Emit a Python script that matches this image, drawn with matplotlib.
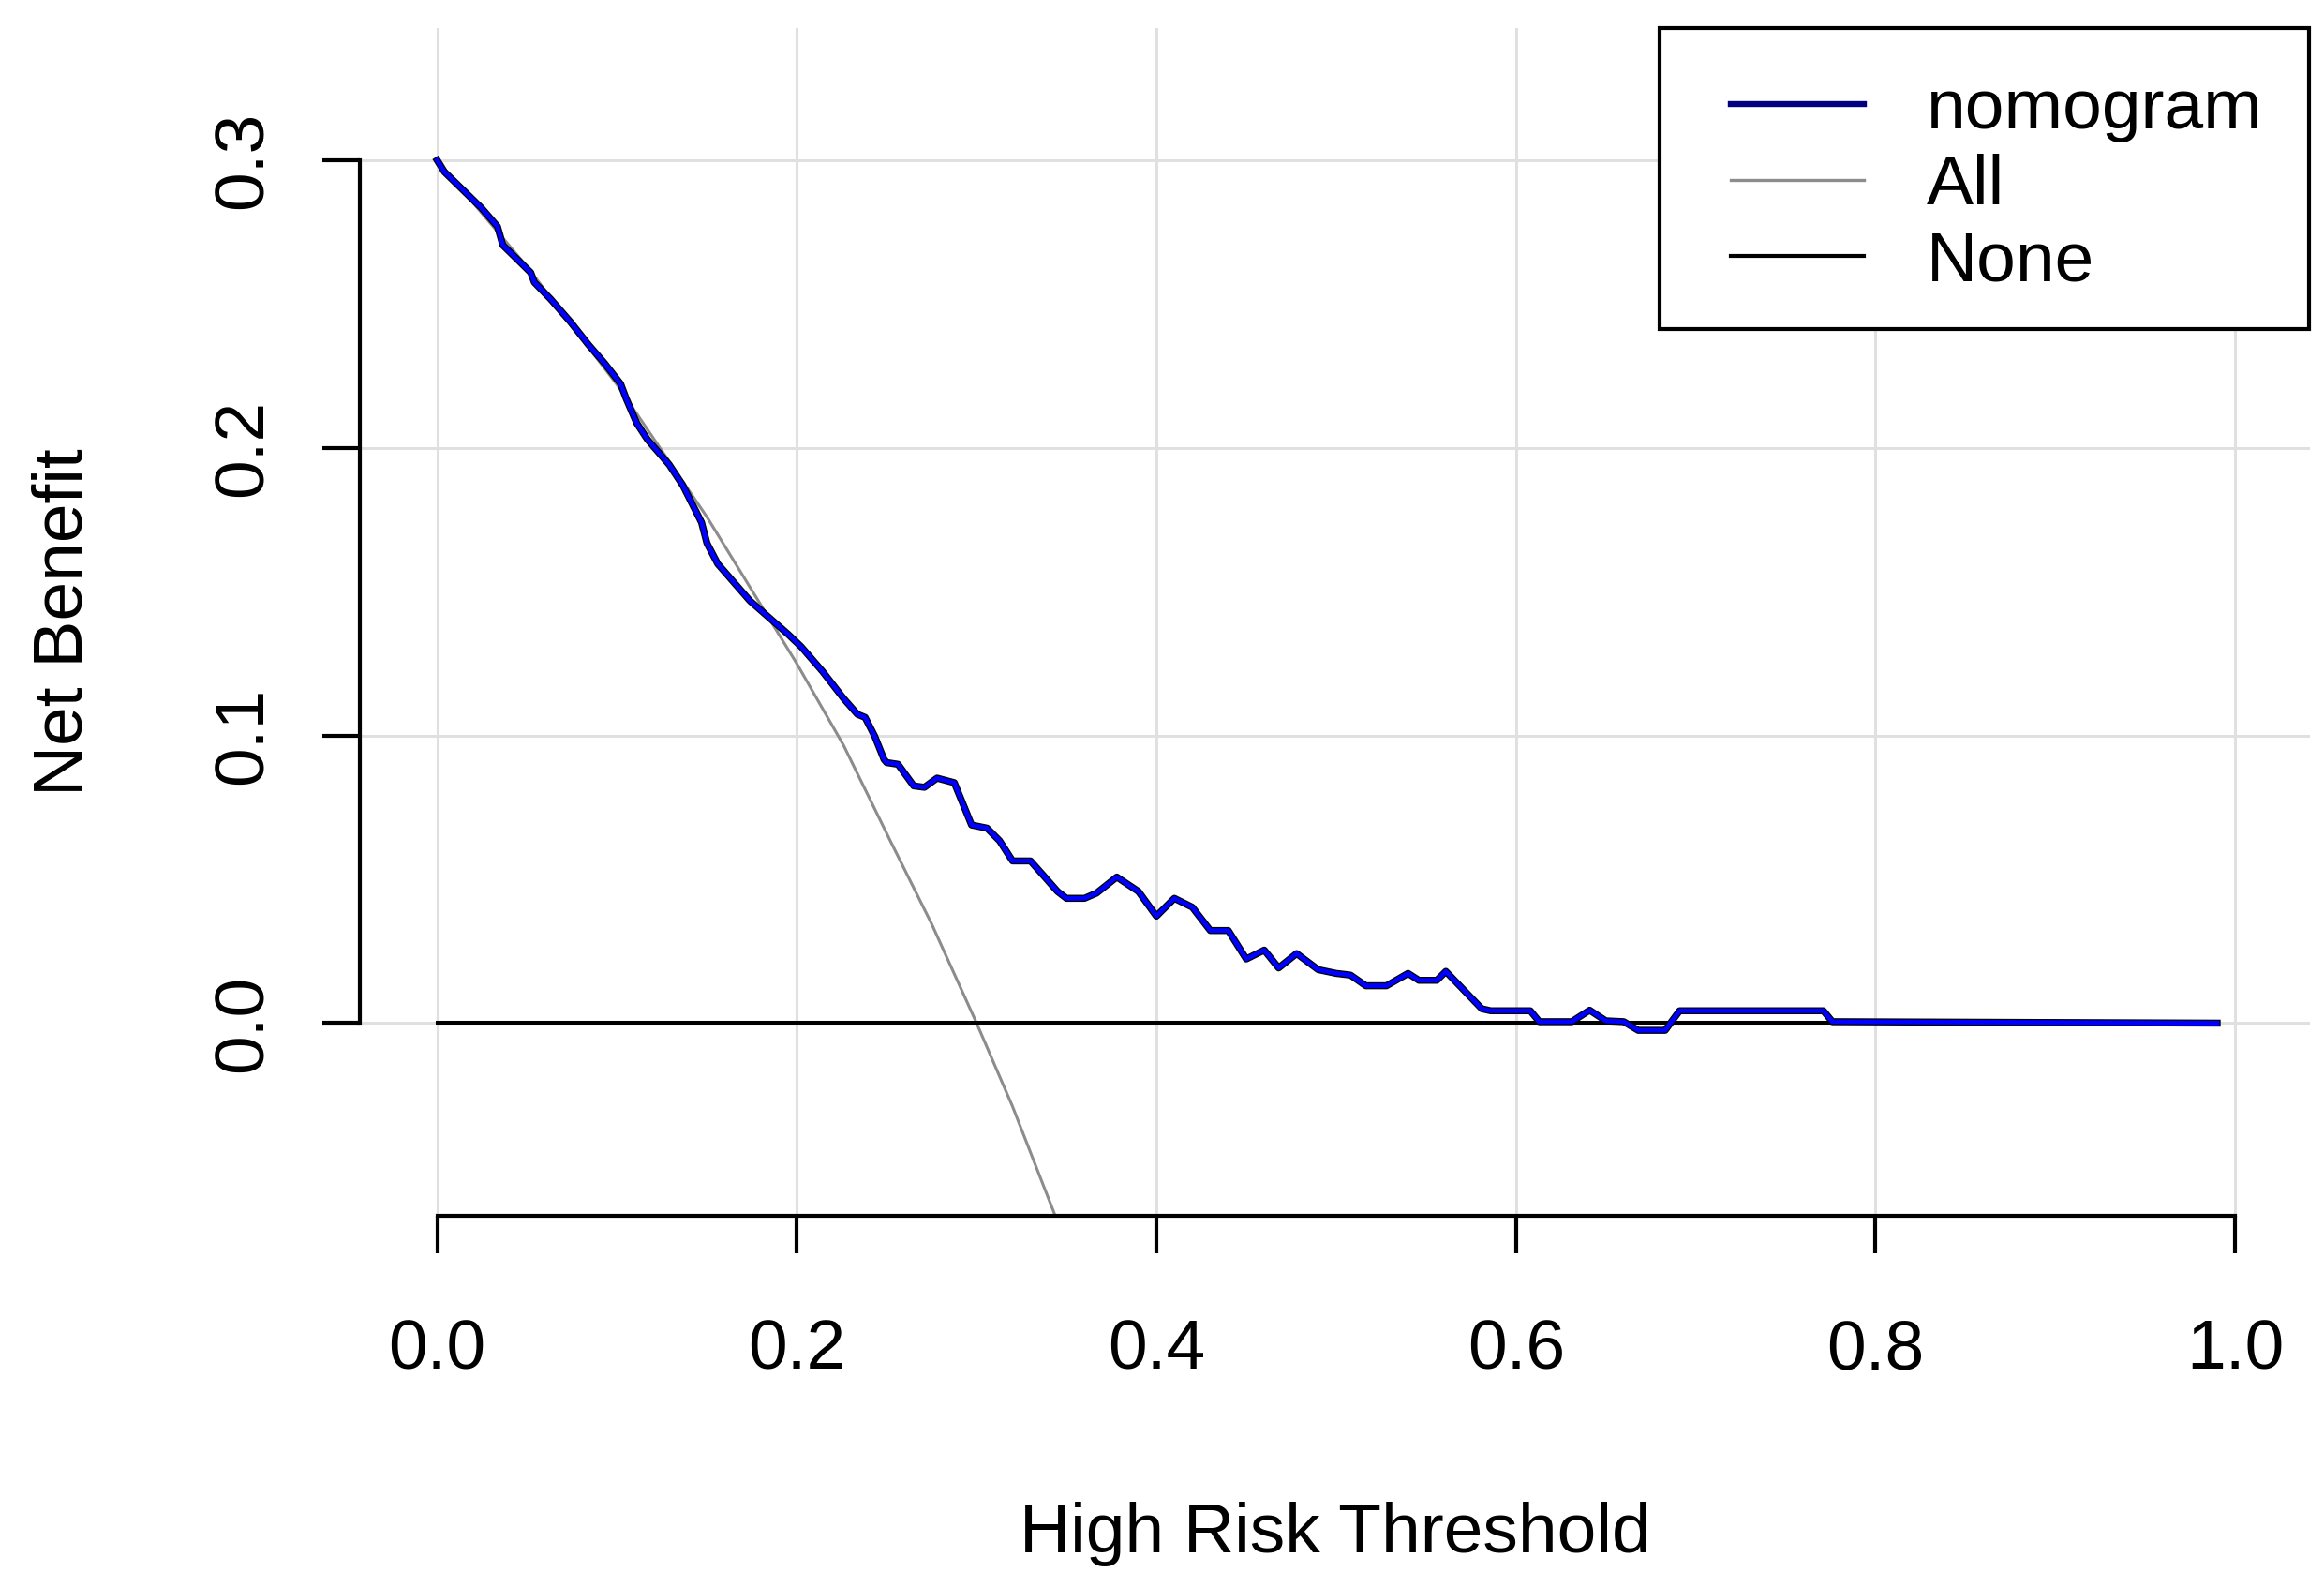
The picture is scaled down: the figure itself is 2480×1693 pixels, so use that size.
import matplotlib
matplotlib.use("Agg")
import matplotlib.pyplot as plt
from matplotlib.patches import Rectangle
from matplotlib.ticker import FormatStrFormatter
import numpy as np

plt.rcParams['font.family'] = ['Liberation Sans', 'DejaVu Sans']

# decision curve
thresh = [0.000, 0.004, 0.0245, 0.0335, 0.0365, 0.052, 0.054, 0.063, 0.074, 0.084,
          0.093, 0.102, 0.105, 0.111, 0.117, 0.129, 0.1366, 0.147, 0.150, 0.156,
          0.174, 0.195, 0.2024, 0.2143, 0.226, 0.2337, 0.238, 0.2433, 0.2485, 0.250,
          0.2563, 0.265, 0.271, 0.278, 0.2876, 0.2972, 0.3058, 0.3128, 0.320, 0.330,
          0.345, 0.350, 0.360, 0.3667, 0.378, 0.390, 0.400, 0.410, 0.420, 0.430,
          0.440, 0.450, 0.460, 0.468, 0.478, 0.490, 0.500, 0.508, 0.5165, 0.528,
          0.540, 0.546, 0.556, 0.561, 0.581, 0.586, 0.608, 0.613, 0.631, 0.641,
          0.650, 0.660, 0.668, 0.683, 0.691, 0.771, 0.776, 0.990]
nomogram = [0.300, 0.296, 0.2835, 0.277, 0.2705, 0.261, 0.2576, 0.2518, 0.2439, 0.236,
            0.2295, 0.2223, 0.2173, 0.2086, 0.2029, 0.1942, 0.187, 0.1741, 0.1669, 0.1597,
            0.1468, 0.1353, 0.1309, 0.1223, 0.1129, 0.1074, 0.1063, 0.0998, 0.0917, 0.0906,
            0.0900, 0.0825, 0.0820, 0.0852, 0.0836, 0.0689, 0.0678, 0.0634, 0.0564, 0.0564,
            0.0458, 0.0434, 0.0434, 0.0452, 0.0508, 0.0458, 0.0372, 0.0434, 0.0403, 0.0322,
            0.0322, 0.0223, 0.0254, 0.0192, 0.0242, 0.0186, 0.0173, 0.0167, 0.0130, 0.0130,
            0.0173, 0.0149, 0.0149, 0.0180, 0.0050, 0.0043, 0.0043, 0.0005, 0.0005, 0.0045,
            0.0008, 0.0005, -0.0025, -0.0025, 0.0043, 0.0043, 0.0005, 0.000]

all_x = [0.00, 0.05, 0.10, 0.15, 0.20, 0.226, 0.252, 0.275, 0.30, 0.32, 0.345]
all_y = [0.300, 0.263, 0.222, 0.176, 0.125, 0.0966, 0.0634, 0.0345, 0.000, -0.029, -0.069]

none_x = [0.0, 0.99]
none_y = [0.0, 0.0]

xticks = [0.0, 0.2, 0.4, 0.6, 0.8, 1.0]
yticks = [0.0, 0.1, 0.2, 0.3]

fig = plt.figure(figsize=(24.8, 16.93), dpi=100)
ax = fig.add_axes([0.1548, 0.2339, 0.8392, 0.7484])

ax.set_xlim(-0.0431, 1.0417)
ax.set_ylim(-0.067, 0.346)

ax.grid(True, color='#e0e0e0', lw=2.2, zorder=0)
ax.set_axisbelow(True)

ax.plot(all_x, all_y, color='#8c8c8c', lw=2.2, zorder=2)
ax.plot(none_x, none_y, color='black', lw=2.9, zorder=3)
ax.plot(thresh, nomogram, color='black', lw=5.4, zorder=4, solid_joinstyle='round')
ax.plot(thresh, nomogram, color='#0000ff', lw=3.6, zorder=5, solid_joinstyle='round')

for s in ['top', 'right']:
    ax.spines[s].set_visible(False)
ax.spines['left'].set_bounds(0.0, 0.3)
ax.spines['bottom'].set_bounds(0.0, 1.0)
for s in ['left', 'bottom']:
    ax.spines[s].set_linewidth(3.0)

ax.set_xticks(xticks)
ax.set_yticks(yticks)
ax.xaxis.set_major_formatter(FormatStrFormatter('%.1f'))
ax.yaxis.set_major_formatter(FormatStrFormatter('%.1f'))
ax.tick_params(axis='both', direction='out', length=29, width=3.0, labelsize=54)
ax.tick_params(axis='x', pad=50)
ax.tick_params(axis='y', pad=35)
for lab in ax.get_yticklabels():
    lab.set_rotation(90)
    lab.set_va('center')

ax.set_xlabel('High Risk Threshold', fontsize=54, va='center')
ax.xaxis.set_label_coords(0.5, -0.268)
ax.set_ylabel('Net Benefit', fontsize=54, va='center')
ax.yaxis.set_label_coords(-0.1516, 0.5)

# legend box like R's legend()
box = Rectangle((0.6665, 0.7466), 0.333, 0.2534, transform=ax.transAxes,
                facecolor='white', edgecolor='black', lw=3.0, zorder=6, clip_on=False)
ax.add_patch(box)
h1, = ax.plot([], [], color='#000080', lw=4.6)
h2, = ax.plot([], [], color='#8c8c8c', lw=2.4)
h3, = ax.plot([], [], color='black', lw=3.0)
leg = ax.legend([h1, h2, h3], ['nomogram', 'All', 'None'], loc='upper left',
                bbox_to_anchor=(0.703, 0.958), frameon=False, fontsize=54,
                borderpad=0, borderaxespad=0, handlelength=1.9, handletextpad=0.88,
                labelspacing=0.16)
leg.set_zorder(7)

fig.savefig('out.png', dpi=100)
